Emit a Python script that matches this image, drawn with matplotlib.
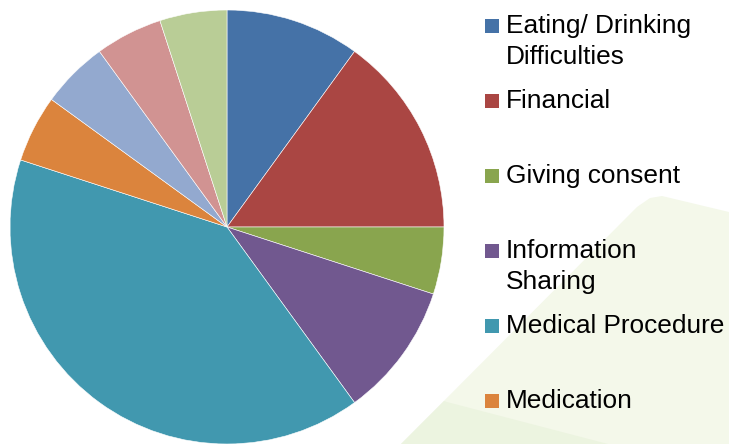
import matplotlib
matplotlib.use('Agg')
import matplotlib.pyplot as plt
from matplotlib.patches import Polygon, Rectangle

# slice shares (clockwise from 12 o'clock)
values = [10, 15, 5, 10, 40, 5, 5, 5, 5]
colors = ['#4572A7', '#AA4643', '#89A54E', '#71588F', '#4198AF',
          '#DB843D', '#93A9CF', '#D19392', '#B9CD96']
# only the first six legend entries fit in the picture
labels = ['Eating/ Drinking\nDifficulties', 'Financial', 'Giving consent',
          'Information\nSharing', 'Medical Procedure', 'Medication']

W, H = 729, 444
fig = plt.figure(figsize=(W / 100., H / 100.), dpi=100)
fig.patch.set_facecolor('white')

def fxy(x, y):
    # pixel coords (top-left origin) -> figure fraction
    return (x / float(W), 1 - y / float(H))

# pale green decoration in the background
bg1 = Polygon([fxy(401, 444), fxy(637, 207), fxy(650, 198), fxy(662, 196),
               fxy(729, 212), fxy(729, 444)],
              closed=True, transform=fig.transFigure, facecolor='#f4f8ea',
              edgecolor='none', zorder=0)
bg2 = Polygon([fxy(401, 444), fxy(444, 401), fxy(447, 402), fxy(608, 444)],
              closed=True, transform=fig.transFigure, facecolor='#ecf4e0',
              edgecolor='none', zorder=0)
fig.patches.extend([bg1, bg2])

# pie: centre (227,227), radius 217 px
ax = fig.add_axes([10 / float(W), 0.0, 434 / float(W), 434 / float(H)])
ax.pie(values, colors=colors, startangle=90, counterclock=False, radius=1.0,
       wedgeprops=dict(edgecolor='white', linewidth=0.4))
ax.set_xlim(-1, 1)
ax.set_ylim(-1, 1)
ax.set_aspect('equal')
ax.axis('off')

# legend drawn by hand so each entry sits 75 px apart
for i, lab in enumerate(labels):
    base = 33 + 75 * i
    x0, y0 = fxy(485, base)
    fig.patches.append(Rectangle((x0, y0), 14 / float(W), 14 / float(H),
                                 transform=fig.transFigure, facecolor=colors[i],
                                 edgecolor='none', zorder=3))
    # wrapped labels: one text per line, 31 px apart
    for j, line in enumerate(lab.split('\n')):
        tx, ty = fxy(506, base + 31 * j)
        fig.text(tx, ty, line, fontsize=18.9, family='Liberation Sans',
                 color='black', va='baseline', ha='left', zorder=4)

plt.savefig('out.png', dpi=100)
